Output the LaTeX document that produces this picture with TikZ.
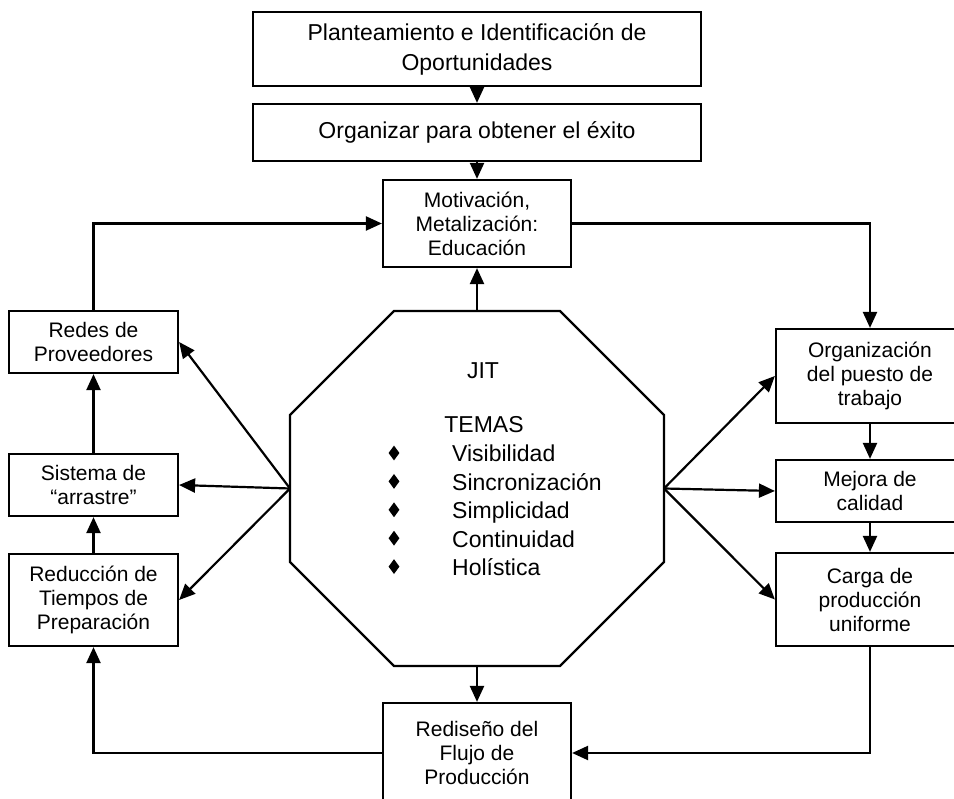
\documentclass[tikz,border=0pt]{standalone}
\usepackage{fontspec}
\setmainfont{Liberation Sans}
\usetikzlibrary{arrows.meta,shapes.geometric}

\begin{document}
\begin{tikzpicture}[x=1pt,y=-1pt,
  line/.style={line width=2.2pt},
  arr/.style={line, -{Triangle[length=16pt,width=14pt]}},
  stage/.style={draw, line, align=center, inner sep=0pt,
    font=\fontsize{21}{24}\selectfont},
  banner/.style={stage, minimum width=448pt,
    font=\fontsize{23}{30}\selectfont},
  theme/.style={inner sep=0pt, font=\fontsize{23}{28}\selectfont},
  gem/.style={diamond, fill, minimum width=11pt, minimum height=15pt,
    inner sep=0pt}]

\useasboundingbox (0,0) rectangle (954,799);

% top chain
\node[banner, minimum height=74pt] (plan) at (477,49)
  {Planteamiento e Identificación de\\Oportunidades};
\node[banner, minimum height=57pt] (org) at (477,132.5)
  {Organizar para obtener el éxito};
\node[stage, minimum width=188pt, minimum height=87pt] (motiv) at (477,223.5)
  {Motivación,\\Metalización:\\Educación};

% left column
\node[stage, minimum width=169pt, minimum height=62pt] (redes) at (93.5,342)
  {Redes de\\Proveedores};
\node[stage, minimum width=169pt, minimum height=62pt] (arrastre) at (93.5,485)
  {Sistema de\\“arrastre”};
\node[stage, minimum width=169pt, minimum height=92pt] (setup) at (93.5,600)
  {Reducción de\\Tiempos de\\Preparación};

% right column
\node[stage, minimum width=188pt, minimum height=94pt] (puesto) at (870,376)
  {Organización\\del puesto de\\trabajo};
\node[stage, minimum width=188pt, minimum height=62pt] (calidad) at (870,491)
  {Mejora de\\calidad};
\node[stage, minimum width=188pt, minimum height=93pt] (carga) at (870,599.5)
  {Carga de\\producción\\uniforme};

% bottom
\node[stage, minimum width=188pt, minimum height=100pt] (flujo) at (477,753)
  {Rediseño del\\Flujo de\\Producción};

% central octagon
\node[minimum width=374pt, minimum height=355pt, inner sep=0pt, outer sep=0pt]
  (jit) at (477,488.5) {};
\draw[line]
  ([xshift=104pt]jit.north west) -- ([xshift=-104pt]jit.north east)
  -- ([yshift=-104pt]jit.north east) -- ([yshift=104pt]jit.south east)
  -- ([xshift=-104pt]jit.south east) -- ([xshift=104pt]jit.south west)
  -- ([yshift=104pt]jit.south west) -- ([yshift=-104pt]jit.north west)
  -- cycle;

\node[theme, anchor=base] (jitname) at (483,379) {JIT};
\node[theme, anchor=base] (temas) at (484,433) {TEMAS};
\foreach \t [count=\i] in {Visibilidad,Sincronización,Simplicidad,Continuidad,Holística}{
  \node[theme, anchor=base west] (tema\i) at (452,{462+28.4*(\i-1)}) {\t};
  \node[gem] (gem\i) at (394,{453+28.4*(\i-1)}) {};
}

% connectors
\draw[arr] (plan.south) -- (org.north);
\draw[arr] (org.south) -- (motiv.north);
\draw[arr] (jit.north) -- (motiv.south);
\draw[arr] (redes.north) |- (motiv.west);
\draw[arr] (motiv.east) -| (puesto.north);

\draw[arr] (jit.west) -- (redes.east);
\draw[arr] (jit.west) -- (arrastre.east);
\draw[arr] (jit.west) -- (setup.east);
\draw[arr] (arrastre.north) -- (redes.south);
\draw[arr] (setup.north) -- (arrastre.south);

\draw[arr] (jit.east) -- (puesto.west);
\draw[arr] (jit.east) -- (calidad.west);
\draw[arr] (jit.east) -- (carga.west);
\draw[arr] (puesto.south) -- (calidad.north);
\draw[arr] (calidad.south) -- (carga.north);

\draw[arr] (jit.south) -- (flujo.north);
\draw[arr] (carga.south) |- (flujo.east);
\draw[arr] (flujo.west) -| (setup.south);
\end{tikzpicture}
\end{document}
